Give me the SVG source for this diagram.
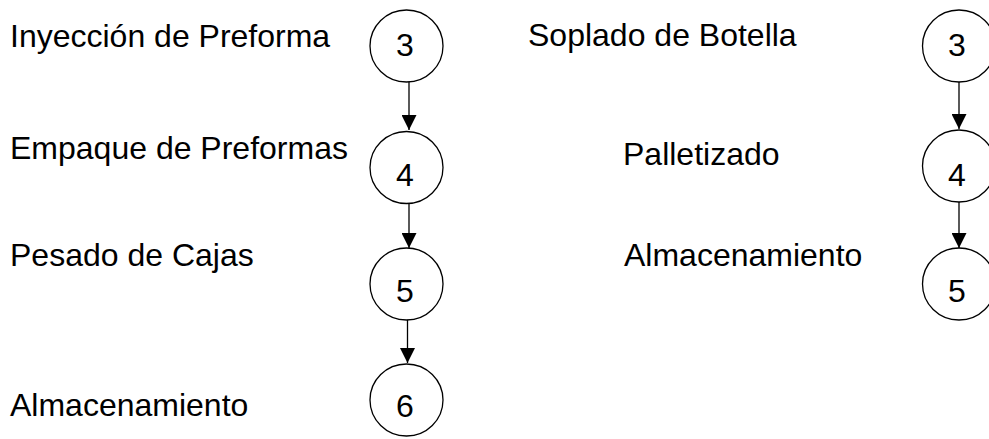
<svg xmlns="http://www.w3.org/2000/svg" width="989" height="439" viewBox="0 0 989 439">
<style>
.lbl{font-family:"Liberation Sans",Arial,sans-serif;font-size:32px;fill:#000}
.num{font-family:"Liberation Sans",Arial,sans-serif;font-size:32px;fill:#000;text-anchor:middle}
.c{fill:#fff;stroke:#000;stroke-width:1.3}
.e{stroke:#000;stroke-width:1.3;fill:none;marker-end:url(#ah)}
</style>
<defs>
<marker id="ah" markerWidth="16" markerHeight="15" refX="15" refY="7.5" orient="auto" markerUnits="userSpaceOnUse">
<path d="M0,0 L15,7.5 L0,15 Z" fill="#000"/>
</marker>
</defs>
<rect width="989" height="439" fill="#fff"/>
<g id="connectors">
<line class="e" x1="409" y1="82" x2="409" y2="130"/>
<line class="e" x1="409" y1="203" x2="409" y2="248"/>
<line class="e" x1="407.5" y1="318" x2="407.5" y2="363"/>
<line class="e" x1="959" y1="82" x2="959" y2="129"/>
<line class="e" x1="959" y1="202" x2="959" y2="248"/>
</g>
<g id="n-inyeccion"><text class="lbl" x="10" y="47">Inyección de Preforma</text></g>
<g id="n-empaque"><text class="lbl" x="10" y="159">Empaque de Preformas</text></g>
<g id="n-pesado"><text class="lbl" x="10" y="266">Pesado de Cajas</text></g>
<g id="n-almacen-l"><text class="lbl" x="10" y="416">Almacenamiento</text></g>
<g id="n-soplado"><text class="lbl" x="528" y="46">Soplado de Botella</text></g>
<g id="n-palletizado"><text class="lbl" x="623" y="165">Palletizado</text></g>
<g id="n-almacen-r"><text class="lbl" x="624" y="266">Almacenamiento</text></g>
<g id="c-l3"><ellipse class="c" cx="406.5" cy="46" rx="36.5" ry="36"/><text class="num" x="405" y="56">3</text></g>
<g id="c-l4"><ellipse class="c" cx="406.5" cy="167.5" rx="36.5" ry="36"/><text class="num" x="405" y="186">4</text></g>
<g id="c-l5"><ellipse class="c" cx="406.5" cy="284" rx="36.5" ry="36"/><text class="num" x="405" y="302">5</text></g>
<g id="c-l6"><ellipse class="c" cx="406.5" cy="400" rx="36.5" ry="36"/><text class="num" x="405" y="417">6</text></g>
<g id="c-r3"><ellipse class="c" cx="959" cy="46" rx="36.5" ry="36"/><text class="num" x="957" y="56">3</text></g>
<g id="c-r4"><ellipse class="c" cx="959" cy="166" rx="36.5" ry="36"/><text class="num" x="957" y="186">4</text></g>
<g id="c-r5"><ellipse class="c" cx="959" cy="284" rx="36.5" ry="36"/><text class="num" x="957" y="302">5</text></g>
</svg>
